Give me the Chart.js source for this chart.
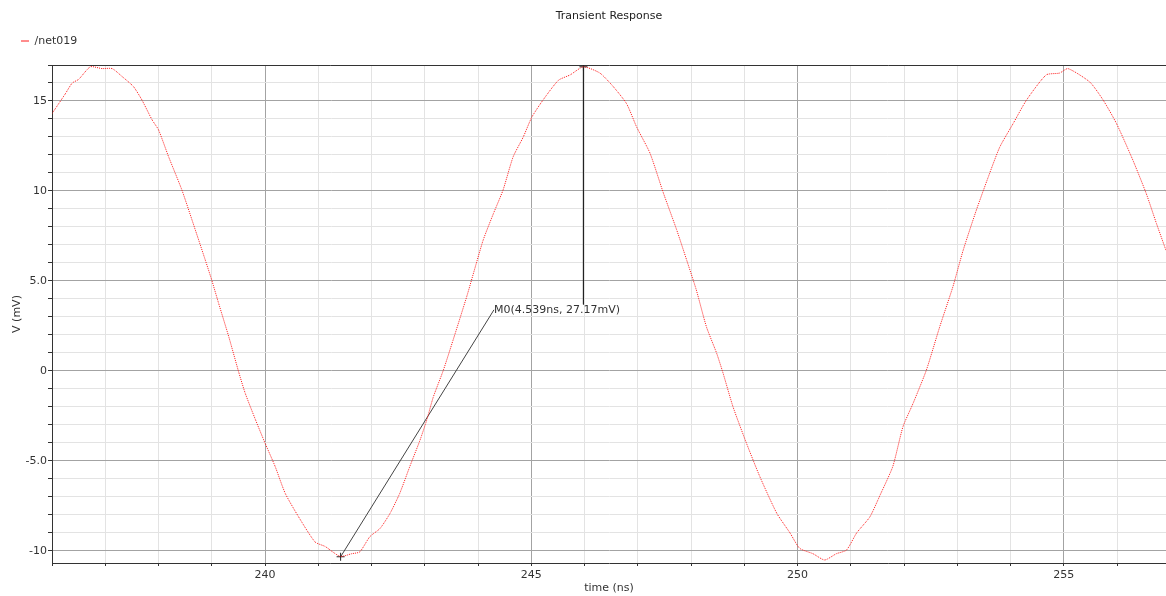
<!DOCTYPE html>
<html>
<head>
<meta charset="utf-8">
<title>Transient Response</title>
<script src="https://cdn.jsdelivr.net/npm/chart.js@4.4.1/dist/chart.umd.min.js"></script>
<style>
  html, body { margin: 0; padding: 0; background: #fff; }
  #wrap { width: 1166px; height: 596px; position: relative; }
</style>
</head>
<body>
<div id="wrap"><canvas id="tranChart"></canvas></div>
<script>
// signal /net019
var timeNs = [236.00, 236.25, 236.38, 236.50, 236.72, 236.94, 237.13, 237.32, 237.53, 237.69,
  237.88, 238.00, 238.19, 238.44, 238.69, 238.88, 239.00, 239.13, 239.32, 239.51,
  239.63, 239.82, 240.00, 240.19, 240.38, 240.63, 240.94, 241.13, 241.41, 241.63,
  241.78, 241.97, 242.16, 242.35, 242.53, 242.72, 242.91, 243.04, 243.16, 243.35,
  243.53, 243.79, 243.97, 244.10, 244.29, 244.47, 244.66, 244.85, 245.01, 245.22,
  245.51, 245.73, 245.98, 246.29, 246.54, 246.79, 246.98, 247.23, 247.48, 247.73,
  247.92, 248.10, 248.29, 248.48, 248.60, 248.79, 249.04, 249.29, 249.61, 249.86,
  250.04, 250.29, 250.51, 250.73, 250.92, 251.11, 251.36, 251.55, 251.79, 251.98,
  252.17, 252.42, 252.67, 252.92, 253.11, 253.36, 253.61, 253.80, 254.05, 254.30,
  254.67, 254.92, 255.08, 255.49, 255.74, 255.99, 256.30, 256.55, 256.74, 256.92];
var voltMv = [14.3, 15.4, 16.0, 16.2, 16.9, 16.8, 16.8, 16.35, 15.8, 15.05,
  13.95, 13.4, 11.9, 10.05, 7.85, 6.15, 5.05, 3.75, 1.9, -0.1,
  -1.25, -2.7, -4.0, -5.3, -6.8, -8.1, -9.5, -9.75, -10.3, -10.15,
  -10.05, -9.2, -8.75, -7.9, -6.8, -5.3, -3.85, -2.7, -1.45, 0.05,
  1.7, 4.15, 6.0, 7.3, 8.75, 10.05, 11.9, 13.0, 14.1, 15.05,
  16.15, 16.45, 16.9, 16.55, 15.8, 14.85, 13.55, 12.1, 9.9, 7.85,
  6.15, 4.5, 2.45, 1.0, -0.1, -2.0, -4.0, -5.85, -7.9, -9.0,
  -9.85, -10.15, -10.5, -10.15, -9.95, -9.0, -8.1, -6.9, -5.3, -3.1,
  -1.8, 0.05, 2.45, 4.7, 6.7, 8.95, 11.0, 12.45, 13.75, 15.05,
  16.45, 16.55, 16.8, 16.05, 15.05, 13.75, 11.7, 9.85, 8.2, 6.7];

// marker M0: peak point, trough point and where the label sits
var markerPeak = [245.98, 16.9];
var markerTrough = [241.42, -10.32];
var markerLabelPos = [244.30, 3.40];
var markerText = 'M0(4.539ns, 27.17mV)';

var xMin = 236.0, xMax = 256.92;
var yMin = -10.667, yMax = 17.0;
var yMajor = [-10, -5, 0, 5, 10, 15];
var yMajorLabels = ['-10', '-5.0', '0', '5.0', '10', '15'];
var xMajor = [240, 245, 250, 255];
var xMajorLabels = ['240', '245', '250', '255'];

Chart.defaults.font.family = 'DejaVu Sans';
Chart.defaults.font.size = 11;
Chart.defaults.color = '#333';

function unitTicks(scale) {
  var t = [];
  for (var v = Math.ceil(scale.min); v <= Math.floor(scale.max); v++) t.push({value: v});
  scale.ticks = t;
}
function gridColor(c) {
  if (!c.tick) return '#e3e3e3';
  return c.tick.value % 5 === 0 ? '#a3a3a3' : '#e3e3e3';
}

var markerLabel = {
  id: 'markerLabel',
  afterDatasetsDraw: function(chart) {
    var ctx = chart.ctx;
    var xs = chart.scales.x, ys = chart.scales.y;
    ctx.save();
    ctx.font = '11px "DejaVu Sans"';
    ctx.fillStyle = '#333';
    ctx.textAlign = 'left';
    ctx.textBaseline = 'middle';
    ctx.fillText(markerText, xs.getPixelForValue(markerLabelPos[0]), ys.getPixelForValue(markerLabelPos[1]));
    ctx.restore();
  }
};

var ctx = document.getElementById('tranChart').getContext('2d');
var chart = new Chart(ctx, {
  type: 'line',
  data: {
    datasets: [
      {
        label: '/net019',
        data: timeNs.map(function(t, i) { return {x: t, y: voltMv[i]}; }),
        borderColor: '#ff1a1a',
        borderWidth: 1,
        borderDash: [1, 1],
        pointRadius: 0,
        tension: 0.2
      },
      {
        label: 'peak',
        data: [{x: markerPeak[0], y: markerPeak[1]}, {x: markerPeak[0], y: markerLabelPos[1] + 0.3}],
        borderColor: '#222',
        borderWidth: 1,
        pointStyle: 'cross',
        pointRadius: [4, 0],
        pointBorderColor: '#222',
        pointBorderWidth: 1
      },
      {
        label: 'trough',
        data: [{x: markerLabelPos[0], y: markerLabelPos[1]}, {x: markerTrough[0], y: markerTrough[1]}],
        borderColor: '#444',
        borderWidth: 1,
        pointStyle: 'cross',
        pointRadius: [0, 4],
        pointBorderColor: '#222',
        pointBorderWidth: 1
      }
    ]
  },
  options: {
    responsive: true,
    maintainAspectRatio: false,
    animation: false,
    layout: { autoPadding: false, padding: { left: 11, right: 0, top: 0, bottom: 0 } },
    plugins: {
      title: {
        display: true,
        text: 'Transient Response',
        fullSize: false,
        color: '#222',
        font: { size: 11, weight: 'normal' },
        padding: { top: 10, bottom: 2.3 }
      },
      legend: {
        display: true,
        align: 'start',
        labels: {
          usePointStyle: true,
          pointStyle: 'line',
          pointStyleWidth: 8,
          boxHeight: 8,
          padding: 10,
          color: '#333',
          generateLabels: function(chart) {
            return Chart.defaults.plugins.legend.labels.generateLabels(chart)
              .filter(function(l) { return l.datasetIndex === 0; })
              .map(function(l) { l.lineDash = []; l.lineWidth = 1; return l; });
          }
        },
        onClick: null
      },
      tooltip: { enabled: false }
    },
    scales: {
      x: {
        type: 'linear',
        position: 'bottom',
        min: xMin,
        max: xMax,
        afterBuildTicks: unitTicks,
        afterFit: function(s) { s.height = 33; },
        ticks: {
          autoSkip: false,
          maxRotation: 0,
          padding: 3,
          callback: function(v) { var i = xMajor.indexOf(v); return i >= 0 ? xMajorLabels[i] : ''; }
        },
        grid: { color: gridColor, tickColor: '#333', tickLength: 3 },
        border: { color: '#333', width: 1 },
        title: { display: true, text: 'time (ns)', padding: { top: 0, bottom: 1.4 } }
      },
      xTop: {
        type: 'linear',
        position: 'top',
        min: xMin,
        max: xMax,
        afterFit: function(s) { s.height = 8.5; },
        ticks: { display: false },
        grid: { display: false },
        border: { color: '#333', width: 1 }
      },
      y: {
        type: 'linear',
        min: yMin,
        max: yMax,
        afterBuildTicks: unitTicks,
        afterFit: function(s) { s.width = 41; },
        ticks: {
          autoSkip: false,
          padding: 1,
          callback: function(v) { var i = yMajor.indexOf(v); return i >= 0 ? yMajorLabels[i] : ''; }
        },
        grid: { color: gridColor, tickColor: '#333', tickLength: 4 },
        border: { color: '#333', width: 1 },
        title: { display: true, text: 'V (mV)', padding: { top: 0, bottom: 0 } }
      }
    }
  },
  plugins: [markerLabel]
});
</script>
</body>
</html>
